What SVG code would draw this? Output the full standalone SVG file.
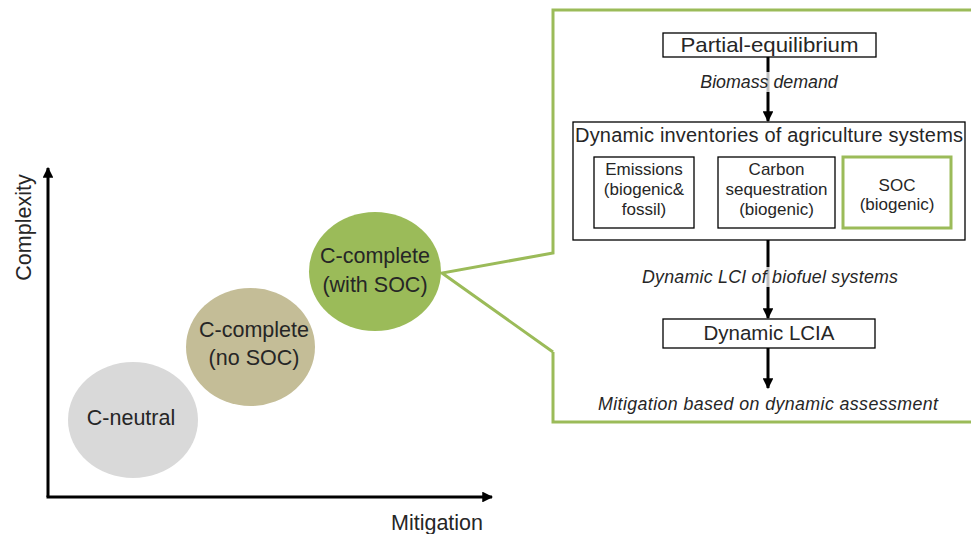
<svg xmlns="http://www.w3.org/2000/svg" width="971" height="534" viewBox="0 0 971 534">
<defs>
<style>
.t{font-family:"Liberation Sans",Arial,sans-serif;fill:#262626}
.it{font-family:"Liberation Sans",Arial,sans-serif;font-style:italic;fill:#262626;font-size:17.8px}
.box{fill:#fff;stroke:#000;stroke-width:1.3}
.ax{stroke:#000;stroke-width:3;fill:none}
.con{stroke:#000;stroke-width:3;fill:none}
.lbg{fill:#fff;fill-opacity:0.75}
</style>
<marker id="ah" viewBox="0 0 10 10" refX="9" refY="5" markerWidth="3.6" markerHeight="3.6" orient="auto" markerUnits="strokeWidth">
<path d="M0,0 L10,5 L0,10 Z" fill="#000"/>
</marker>
</defs>
<rect width="971" height="534" fill="#fff"/>

<g id="axes">
<line class="ax" x1="48" y1="497" x2="48" y2="168" marker-end="url(#ah)"/>
<line class="ax" x1="46.5" y1="497" x2="492" y2="497" marker-end="url(#ah)"/>
<text class="t" font-size="21.5" transform="translate(31,227.5) rotate(-90)" text-anchor="middle">Complexity</text>
<text class="t" font-size="21.5" x="437" y="530" text-anchor="middle">Mitigation</text>
</g>

<g id="callout">
<path d="M553,352 V422 H985 M985,10 H553 V253 L442,273 L553,352" fill="none" stroke="#9BBB59" stroke-width="3"/>
</g>

<g id="c-neutral">
<ellipse cx="133" cy="420" rx="65" ry="58" fill="#D9D9D9"/>
<text class="t" font-size="21.5" x="131" y="425" text-anchor="middle">C-neutral</text>
</g>
<g id="c-complete-nosoc">
<ellipse cx="250.5" cy="347" rx="64.5" ry="59" fill="#C4BD97"/>
<text class="t" font-size="21.5" x="254" y="337" text-anchor="middle">C-complete</text>
<text class="t" font-size="21.5" x="254" y="365" text-anchor="middle">(no SOC)</text>
</g>
<g id="c-complete-soc">
<ellipse cx="375" cy="271.5" rx="66" ry="59.5" fill="#9BBB59"/>
<text class="t" font-size="21.5" x="375" y="263" text-anchor="middle">C-complete</text>
<text class="t" font-size="21.5" x="375" y="292" text-anchor="middle">(with SOC)</text>
</g>

<g id="connectors">
<line class="con" x1="768" y1="57" x2="768" y2="121" marker-end="url(#ah)"/>
<line class="con" x1="768" y1="240" x2="768" y2="318" marker-end="url(#ah)"/>
<line class="con" x1="768" y1="348" x2="768" y2="388" marker-end="url(#ah)"/>
<rect class="lbg" x="700" y="72" width="138" height="20"/>
<text class="it" x="769" y="88" text-anchor="middle">Biomass demand</text>
<rect class="lbg" x="642" y="267" width="256" height="20"/>
<text class="it" x="770" y="283" text-anchor="middle" textLength="256" lengthAdjust="spacing">Dynamic LCI of biofuel  systems</text>
<text class="it" x="768" y="410" text-anchor="middle" font-size="18.6" textLength="340" lengthAdjust="spacing">Mitigation based on dynamic assessment</text>
</g>

<g id="partial-equilibrium">
<rect class="box" x="663" y="33" width="213" height="24"/>
<text class="t" font-size="21" x="769.5" y="51.5" text-anchor="middle" textLength="178" lengthAdjust="spacingAndGlyphs">Partial-equilibrium</text>
</g>

<g id="dynamic-inventories">
<rect class="box" x="573" y="122" width="392" height="118"/>
<text class="t" font-size="20" x="769" y="142" text-anchor="middle" textLength="388" lengthAdjust="spacing">Dynamic inventories of agriculture systems</text>
</g>

<g id="emissions">
<rect class="box" x="594" y="157" width="100" height="71"/>
<text class="t" font-size="17" x="644" y="175" text-anchor="middle">Emissions</text>
<text class="t" font-size="17" x="644" y="195" text-anchor="middle">(biogenic&amp;</text>
<text class="t" font-size="17" x="644" y="215" text-anchor="middle">fossil)</text>
</g>

<g id="carbon-sequestration">
<rect class="box" x="718" y="157" width="117" height="71"/>
<text class="t" font-size="17" x="776.5" y="175" text-anchor="middle">Carbon</text>
<text class="t" font-size="17" x="776.5" y="195" text-anchor="middle">sequestration</text>
<text class="t" font-size="17" x="776.5" y="215" text-anchor="middle">(biogenic)</text>
</g>

<g id="soc">
<rect x="843" y="157" width="108" height="71" fill="#fff" stroke="#9BBB59" stroke-width="3"/>
<text class="t" font-size="17" x="897" y="191" text-anchor="middle">SOC</text>
<text class="t" font-size="17" x="897" y="210" text-anchor="middle">(biogenic)</text>
</g>

<g id="dynamic-lcia">
<rect class="box" x="663" y="319" width="212" height="29"/>
<text class="t" font-size="20.5" x="769" y="340" text-anchor="middle">Dynamic LCIA</text>
</g>
</svg>
